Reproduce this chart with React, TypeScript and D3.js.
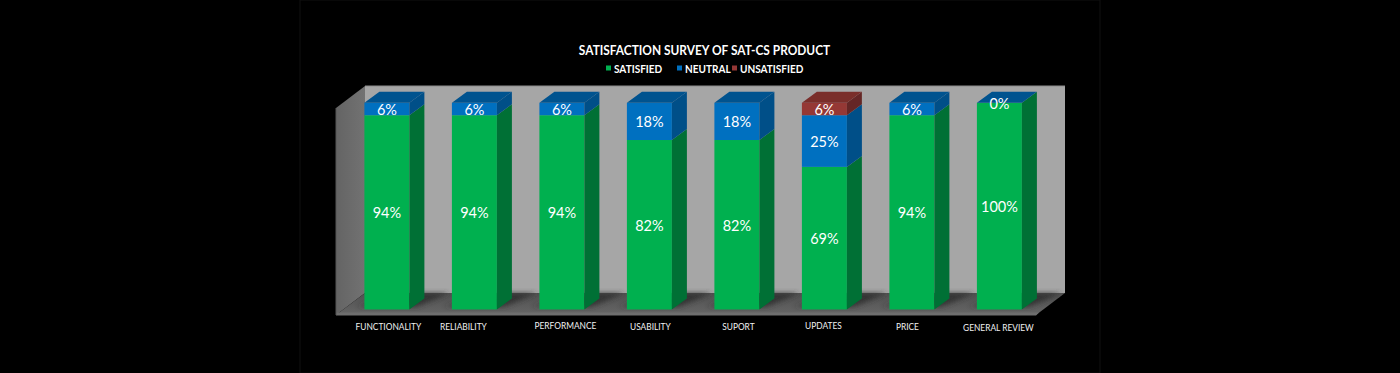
import React from "react";
import * as d3 from "d3";

const title = "SATISFACTION SURVEY OF SAT-CS PRODUCT";
const categories = ["FUNCTIONALITY", "RELIABILITY", "PERFORMANCE", "USABILITY", "SUPORT", "UPDATES", "PRICE", "GENERAL REVIEW"];
const satisfied = [94, 94, 94, 82, 82, 69, 94, 100];
const neutral = [6, 6, 6, 18, 18, 25, 6, 0];
const unsatisfied = [0, 0, 0, 0, 0, 6, 0, 0];
const seriesNames = ["SATISFIED", "NEUTRAL", "UNSATISFIED"];

const labelShift = [1.5, -11, 3.5, 1, 1.5, -1, -4.5, -1];
const labelY = [330, 330, 329, 330, 330, 329, 330, 331];

const colors = [
  { front: "#00b050", side: "#006f35", top: "#00b050" },
  { front: "#0070c0", side: "#004f88", top: "#00528f" },
  { front: "#953735", side: "#652826", top: "#7a2e2c" },
];

const DX = 15;
const DY = -11;
const font = "Lato, sans-serif";

const x = d3.scaleBand<string>().domain(categories).range([364.4, 1021.9]).paddingInner(42.5 / 87.5).paddingOuter(0);
const y = d3.scaleLinear().domain([0, 100]).range([309.5, 102.8]);

const poly = (pts: [number, number][]) => pts.map((p) => p.join(",")).join(" ");

export default function App() {
  const rows = categories.map((c, i) => {
    const vals = [satisfied[i], neutral[i], unsatisfied[i]];
    const stack: { k: number; v: number; y0: number; y1: number }[] = [];
    let acc = 0;
    vals.forEach((v, k) => {
      stack.push({ k, v, y0: acc, y1: acc + v });
      acc += v;
    });
    return { c, i, stack };
  });
  const w = x.bandwidth();

  return (
    <svg width={1400} height={373} style={{ position: "fixed", left: 0, top: 0, background: "#000", display: "block" }}>
      <defs>
        <linearGradient id="leftWall" x1="0" x2="1" y1="0" y2="0">
          <stop offset="0" stopColor="#646464" />
          <stop offset="1" stopColor="#727272" />
        </linearGradient>
        <linearGradient id="floor" x1="0" x2="0" y1="0" y2="1">
          <stop offset="0" stopColor="#505050" />
          <stop offset="1" stopColor="#666666" />
        </linearGradient>
        <filter id="soft" x="-30%" y="-30%" width="160%" height="160%">
          <feGaussianBlur stdDeviation="2.5" />
        </filter>
        <filter id="slight" x="-5%" y="-5%" width="110%" height="110%">
          <feGaussianBlur stdDeviation="0.35" />
        </filter>
      </defs>

      <rect x={0} y={0} width={1400} height={373} fill="#000" />
      <rect x={300} y={0} width={800} height={373} fill="#000" stroke="#111" strokeWidth={1} />

      <text transform="translate(704.5,54.5) scale(0.96,1)" textAnchor="middle" fontFamily={font} fontWeight={700} fontSize={12.4} fill="#fff">{title}</text>

      {[606, 677, 732].map((lx, k) => (
        <g key={k}>
          <rect x={lx} y={65.5} width={5} height={5} fill={colors[k].front} />
          <text transform={`translate(${lx + 8},72.8) scale(0.94,1)`} fontFamily={font} fontWeight={700} fontSize={10.7} fill="#fff">{seriesNames[k]}</text>
        </g>
      ))}

      <polygon points={poly([[365, 86], [1065, 86], [1065, 293], [365, 293]])} fill="#a6a6a6" />
      <polygon points={poly([[336, 108], [365, 86], [365, 293], [336, 315]])} fill="url(#leftWall)" />
      <polygon points={poly([[336, 315], [365, 293], [1065, 293], [1036, 315]])} fill="url(#floor)" />
      <polygon points={poly([[336, 312.5], [1039, 312.5], [1036, 315.5], [336, 315.5]])} fill="#6e6e6e" />
      <line x1={365} x2={1065} y1={86} y2={86} stroke="#8c8c8c" strokeWidth={1} />
      <line x1={336} x2={336} y1={108} y2={315} stroke="#555" strokeWidth={1} />

      {rows.map(({ c }) => {
        const x0 = x(c)!;
        return (
          <polygon
            key={c}
            filter="url(#soft)"
            points={poly([[x0 - 8, y(0) - 3], [x0 + w + 8, y(0) - 3], [x0 + w + 40, 293], [x0 + w + 6, 293]])}
            fill="#2e2e2e"
            opacity={0.85}
          />
        );
      })}
      <rect x={336} y={316} width={730} height={20} fill="#000" />

      {rows.map(({ c, i, stack }) => {
        const x0 = x(c)!;
        const visible = stack.filter((s) => s.v > 0);
        const last = visible[visible.length - 1];
        const topCol = i === categories.length - 1 ? colors[1].top : colors[last.k].top;
        return (
          <g key={c} filter="url(#slight)">
            {visible.map((s) => {
              const t = y(s.y1);
              const b = y(s.y0);
              return (
                <g key={s.k}>
                  <rect x={x0} y={t} width={w} height={b - t} fill={colors[s.k].front} />
                  <polygon points={poly([[x0 + w, t], [x0 + w + DX, t + DY], [x0 + w + DX, b + DY], [x0 + w, b]])} fill={colors[s.k].side} />
                </g>
              );
            })}
            <polygon
              points={poly([[x0, y(100)], [x0 + DX, y(100) + DY], [x0 + w + DX, y(100) + DY], [x0 + w, y(100)]])}
              fill={topCol}
            />
          </g>
        );
      })}

      {rows.map(({ c, stack }) => {
        const x0 = x(c)!;
        return stack
          .filter((s) => s.v > 0 || s.k === 1)
          .map((s) => (
            <text
              key={c + s.k}
              x={x0 + w / 2}
              y={(y(s.y0) + y(s.y1)) / 2 + 6}
              textAnchor="middle"
              fontFamily={font}
              fontSize={14.5}
              fill="#fff"
            >
              {s.v}%
            </text>
          ));
      })}

      {categories.map((c, i) => (
        <text
          key={c}
          transform={`translate(${x(c)! + w / 2 + labelShift[i]},${labelY[i]}) scale(0.9,1)`}
          textAnchor="middle"
          fontFamily={font}
          fontSize={9.3}
          fill="#f0f0f0"
        >
          {c}
        </text>
      ))}
    </svg>
  );
}
